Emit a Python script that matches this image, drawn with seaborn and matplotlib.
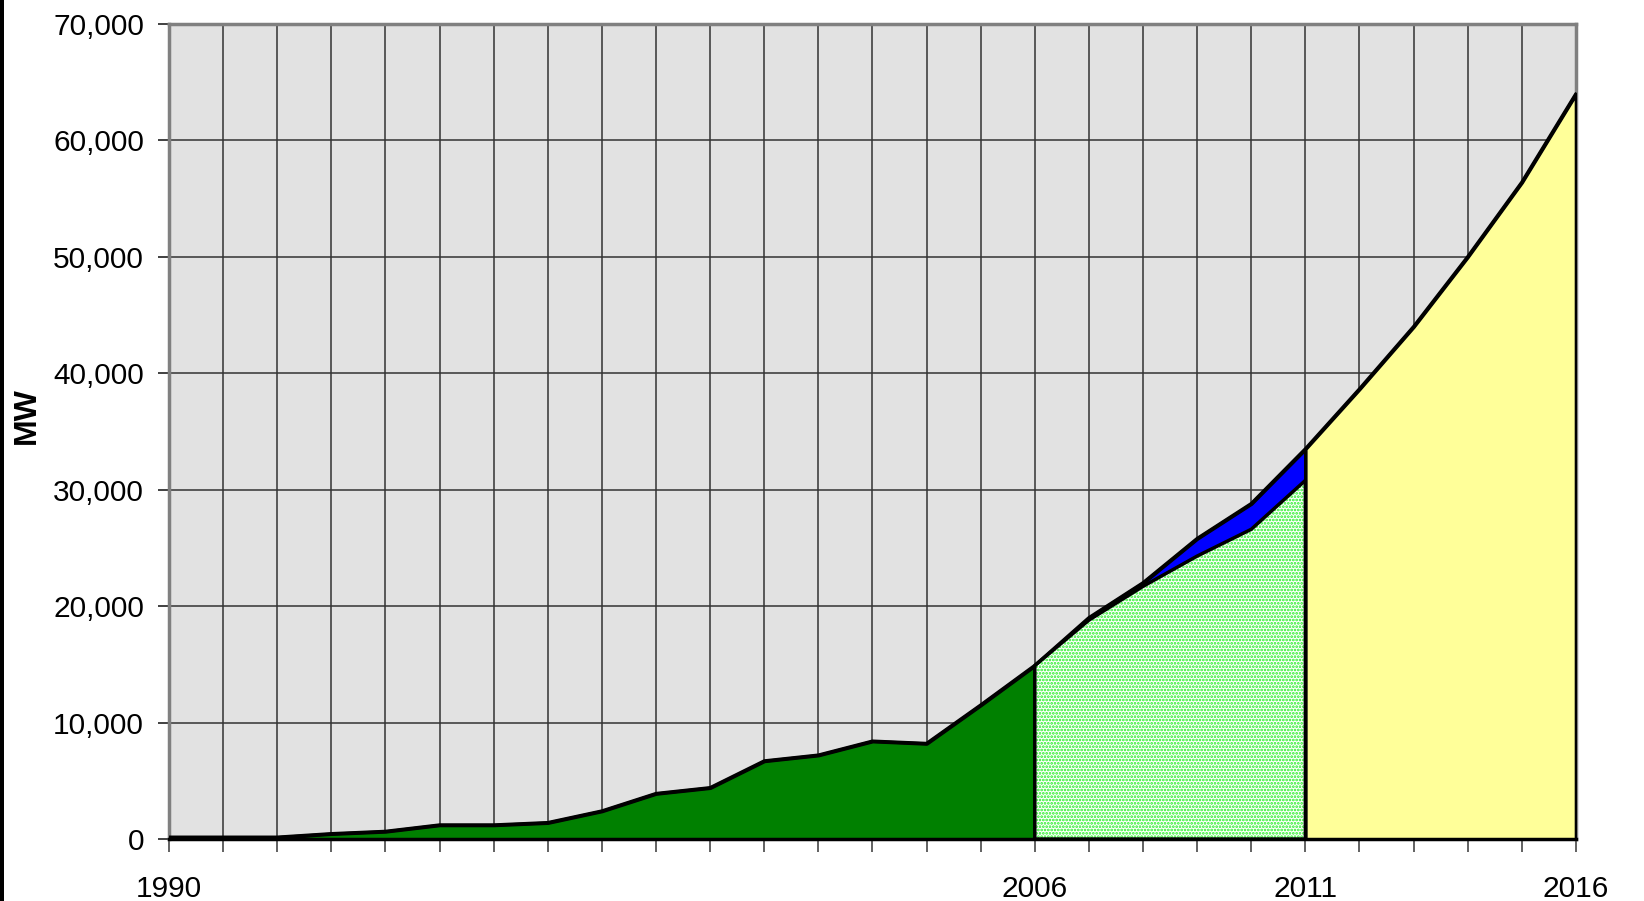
import matplotlib
matplotlib.use("Agg")
import matplotlib.pyplot as plt
import matplotlib.ticker as mticker
from matplotlib.patches import Rectangle
import seaborn as sns
import pandas as pd

# installed capacity (MW)
years_hist = list(range(1990, 2007))
mw_hist = [150, 150, 150, 450, 650, 1200, 1200, 1400, 2400, 3900, 4400,
           6700, 7200, 8400, 8200, 11500, 14900]

years_mid = list(range(2006, 2012))
mw_mid_base = [14900, 18800, 21700, 24300, 26600, 30800]
mw_mid_total = [14900, 19000, 22000, 25800, 28800, 33500]

years_proj = list(range(2011, 2017))
mw_proj = [33500, 38650, 44000, 50000, 56400, 64000]

xtick_labels = {1990: "1990", 2006: "2006", 2011: "2011", 2016: "2016"}

sns.set_style("white", {"axes.facecolor": "#e2e2e2", "text.color": "black",
                        "xtick.color": "black", "ytick.color": "black",
                        "axes.labelcolor": "black"})
plt.rcParams["font.family"] = ["Liberation Sans", "DejaVu Sans"]
plt.rcParams["hatch.linewidth"] = 1.3

fig = plt.figure(figsize=(16.44, 9.01), dpi=100)
ax = fig.add_axes([0.1028, 0.0688, 0.8558, 0.9046])

# green historic area
ax.fill_between(years_hist, 0, mw_hist, facecolor="#008000",
                edgecolor="black", linewidth=2.5, zorder=3)
# blue band on top of the dotted one
ax.fill_between(years_mid, mw_mid_base, mw_mid_total, facecolor="#0000ff",
                edgecolor="black", linewidth=2.5, zorder=3)
# dotted light green area
ax.fill_between(years_mid, 0, mw_mid_base, facecolor="white",
                edgecolor="#22ee22", hatch=".....", linewidth=0, zorder=3)
ax.fill_between(years_mid, 0, mw_mid_base, facecolor="none",
                edgecolor="black", linewidth=2.5, zorder=4)
# yellow projection
ax.fill_between(years_proj, 0, mw_proj, facecolor="#ffff99",
                edgecolor="black", linewidth=2.5, zorder=3)

df_top = pd.DataFrame({"year": years_hist + years_mid[1:] + years_proj[1:],
                       "mw": mw_hist + mw_mid_total[1:] + mw_proj[1:]})
sns.lineplot(data=df_top, x="year", y="mw", color="black", linewidth=2.5,
             ax=ax, zorder=5)

ax.set_xlim(1990, 2016)
ax.set_ylim(0, 70000)
ax.set_xticks(list(range(1990, 2017)))
ax.set_xticklabels([xtick_labels.get(y, "") for y in range(1990, 2017)])
ax.set_yticks(range(0, 70001, 10000))
ax.yaxis.set_major_formatter(mticker.StrMethodFormatter("{x:,.0f}"))

ax.grid(True, color="#333333", linewidth=1.1, zorder=1)
ax.set_axisbelow(True)

ax.tick_params(axis="x", direction="out", length=9, width=1.3, color="#555555",
               labelcolor="black", labelsize=21.5, pad=17, bottom=True)
ax.tick_params(axis="y", direction="out", length=8, width=1.3, color="#333333",
               labelcolor="black", labelsize=21.5, pad=10, left=True)

for side in ["left", "top", "right"]:
    ax.spines[side].set_color("#808080")
    ax.spines[side].set_linewidth(2.5)
ax.spines["bottom"].set_color("black")
ax.spines["bottom"].set_linewidth(2.5)

ax.set_xlabel("")
ax.set_ylabel("MW", fontsize=23, fontweight="bold", color="black")
ax.yaxis.set_label_coords(-0.0905, 0.52)

fig.add_artist(Rectangle((0, 0), 4 / 1644, 1, transform=fig.transFigure,
                         facecolor="black", edgecolor="none"))

fig.savefig("out.png", dpi=100, facecolor="white")
